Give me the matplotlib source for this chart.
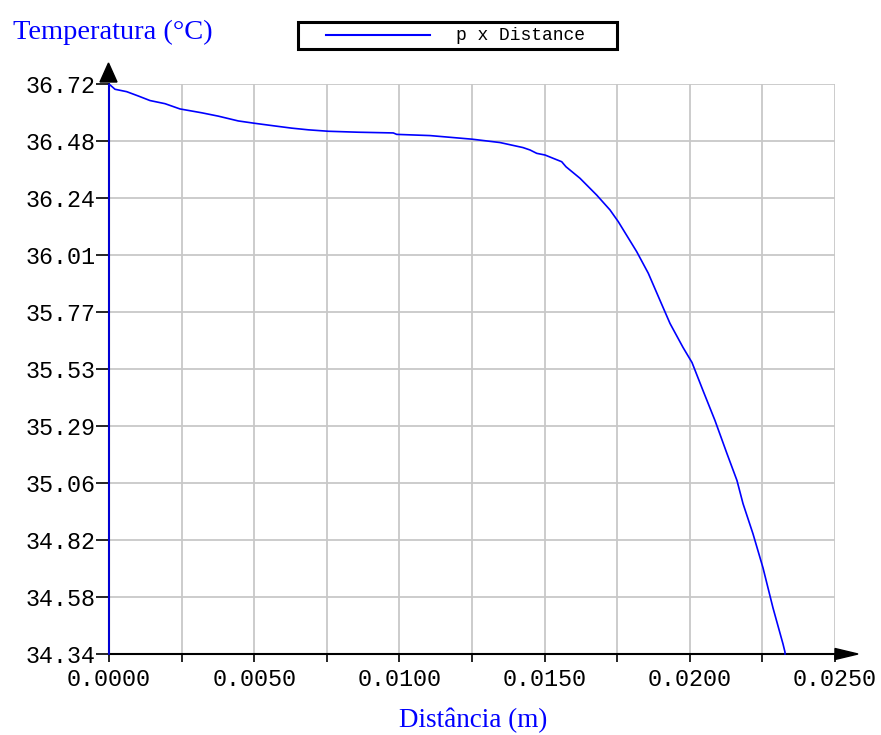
import numpy as np
import matplotlib.pyplot as plt
from matplotlib.patches import Polygon, Rectangle
from matplotlib.lines import Line2D

# curve (distance in m, temperature in degC)
distance = [0.0, 0.0, 0.000207, 0.00061, 0.001009, 0.001412, 0.001928, 0.002445,
            0.003192, 0.003764, 0.004452, 0.005028, 0.005716, 0.006291, 0.006863,
            0.007551, 0.008584, 0.00979, 0.009907, 0.011054, 0.0125, 0.013464,
            0.014256, 0.014498, 0.014728, 0.015014, 0.0153, 0.015589, 0.015737,
            0.016219, 0.016794, 0.017252, 0.017538, 0.018172, 0.018571, 0.018974,
            0.019318, 0.019766, 0.020076, 0.020455, 0.020868, 0.021281, 0.021625,
            0.021832, 0.022176, 0.022521, 0.022865, 0.023209, 0.023278, 0.023278]
temperature = [34.344, 36.72, 36.698, 36.688, 36.670, 36.651, 36.638, 36.616,
               36.600, 36.586, 36.566, 36.556, 36.545, 36.536, 36.529,
               36.523, 36.519, 36.516, 36.51, 36.505, 36.49, 36.476,
               36.455, 36.445, 36.431, 36.424, 36.41, 36.396, 36.375,
               36.327, 36.257, 36.195, 36.146, 36.021, 35.931, 35.818,
               35.722, 35.622, 35.559, 35.442, 35.317, 35.179, 35.067,
               34.971, 34.845, 34.703, 34.536, 34.386, 34.352, 34.344]

y_lo, y_hi = 34.344, 36.72
y_labels = ['34.34', '34.58', '34.82', '35.06', '35.29', '35.53',
            '35.77', '36.01', '36.24', '36.48', '36.72']
x_major = [0.0, 0.005, 0.010, 0.015, 0.020, 0.025]
x_minor = [0.0025, 0.0075, 0.0125, 0.0175, 0.0225]

W, H = 881, 735
mono = 'Liberation Mono'
serif = 'Liberation Serif'
blue = '#0000ff'


def fx(px):
    return px / W


def fy(py):
    return 1 - py / H


fig = plt.figure(figsize=(W / 100, H / 100), dpi=100)
ax = fig.add_axes([fx(109), fy(654), 726 / W, 570 / H])

ax.plot(distance, temperature, color=blue, lw=1.2, zorder=5, clip_on=False)

ax.set_xlim(0, 0.025)
ax.set_ylim(y_lo, y_hi)
ax.set_xticks(x_major)
ax.set_xticklabels(['%.4f' % v for v in x_major])
ax.set_xticks(x_minor, minor=True)
ax.set_yticks(np.linspace(y_lo, y_hi, len(y_labels)))
ax.set_yticklabels(y_labels)

ax.grid(True, which='both', color='#c8c8c8', lw=1.3)
ax.set_axisbelow(True)
for side in ['top', 'right']:
    ax.spines[side].set_visible(False)
for side in ['bottom', 'left']:
    ax.spines[side].set_linewidth(1.5)
    ax.spines[side].set_color('black')

ax.tick_params(axis='x', which='both', direction='out', length=6, width=1.2, pad=4)
ax.tick_params(axis='y', direction='out', length=9.5, width=1.2, pad=0.5)
for lab in ax.get_xticklabels() + ax.get_yticklabels():
    lab.set_fontfamily(mono)
    lab.set_fontsize(16.8)

# arrow heads on the axes
fig.add_artist(Polygon([[fx(100), fy(82)], [fx(117), fy(82)], [fx(108.5), fy(63)]],
                       closed=True, color='black', transform=fig.transFigure))
fig.add_artist(Polygon([[fx(835), fy(648.5)], [fx(835), fy(659.5)], [fx(858), fy(654)]],
                       closed=True, color='black', transform=fig.transFigure))

# axis titles
fig.text(fx(13), fy(39), 'Temperatura (°C)', color=blue, family=serif,
         fontsize=20.5, ha='left', va='baseline')
fig.text(fx(473), fy(727), 'Distância (m)', color=blue, family=serif,
         fontsize=19.5, ha='center', va='baseline')

# legend box
fig.add_artist(Rectangle((fx(297.5), fy(48.5)), (616.5 - 297.5) / W, (48.5 - 21.5) / H,
                         fill=False, ec='black', lw=2.2, transform=fig.transFigure))
fig.add_artist(Line2D([fx(326), fx(430)], [fy(35), fy(35)], color=blue, lw=1.5,
                      transform=fig.transFigure))
fig.text(fx(456), fy(35), 'p x Distance', family=mono, fontsize=13,
         ha='left', va='center')

fig.savefig('out.png', dpi=100)
